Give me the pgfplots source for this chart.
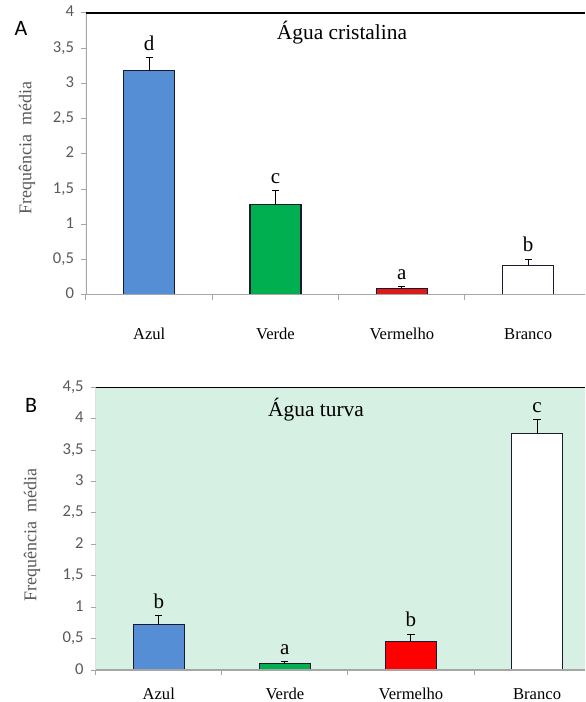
\documentclass[border=0pt]{standalone}
\usepackage{pgfplots}
\pgfplotsset{compat=1.18}
\usepackage{fontspec}
\setmainfont{Liberation Serif}
\newfontfamily\calibri{Carlito}
\definecolor{cblue}{HTML}{558ED5}
\definecolor{cgreen}{HTML}{00B050}
\definecolor{credA}{HTML}{DB1A1A}
\definecolor{credB}{HTML}{FF0000}
\definecolor{bggreen}{HTML}{D6F0E3}
\definecolor{axgray}{HTML}{A6A6A6}
\definecolor{lblgray}{HTML}{595959}
\definecolor{edge}{HTML}{1A1A2E}
\pgfplotsset{
  panel/.style={
    scale only axis, anchor=south west,
    ymin=0, xmin=-0.5,
    axis line style={draw=none},
    tick align=outside,
    xtick={-0.5,0.5,1.5,2.5}, xticklabels={},
    extra x ticks={0,1,2,3},
    extra x tick labels={Azul,Verde,Vermelho,Branco},
    extra x tick style={tick style={draw=none}},
    xtick pos=left, ytick pos=left,
    major tick length=2.5pt,
    tick style={color=axgray, line width=0.5pt},
    ytick distance=0.5,
    scaled y ticks=false,
    typeset ticklabels with strut,
    yticklabel style={font=\calibri\fontsize{8.3}{10}\selectfont, text=lblgray},
    xticklabel style={font=\fontsize{8.3}{10}\selectfont, text=black},
    /pgf/number format/use comma,
    /pgf/number format/assume math mode=true,
  },
  mybar/.style={ybar, bar width=25.5pt, bar shift=0pt, draw=edge, line width=0.6pt, fill=#1,
    error bars/.cd, y dir=plus, y explicit,
    error bar style={black, line width=0.5pt},
    error mark options={rotate=90, mark size=1.8pt, black, line width=0.5pt}},
  letters/.style={draw=none, mark=none, nodes near coords, point meta=explicit symbolic,
    nodes near coords style={font=\fontsize{10.5}{12}\selectfont, text=black}},
}
\begin{document}
\begin{tikzpicture}
\useasboundingbox (0,0) rectangle (292.5pt,351pt);
% Panel A
\begin{axis}[panel, at={(43pt,203.5pt)}, width=249.5pt, height=141pt,
  xmax=3.45, ymax=4, xticklabel style={yshift=-9pt}]
\addplot[mybar=cblue] coordinates {(0,3.18) +- (0,0.19)};
\addplot[mybar=cgreen] coordinates {(1,1.28) +- (0,0.20)};
\addplot[mybar=credA] coordinates {(2,0.09) +- (0,0.03)};
\addplot[mybar=white] coordinates {(3,0.42) +- (0,0.09)};
\addplot[letters] coordinates {(0,3.37)[d] (1,1.48)[c] (2,0.12)[a] (3,0.51)[b]};
\draw[axgray, line width=0.6pt] (rel axis cs:0,0) -- (rel axis cs:0,1);
\draw[axgray, line width=0.6pt] (rel axis cs:0,0) -- (rel axis cs:1,0);
\draw[black, line width=0.7pt] (rel axis cs:0,1) -- (rel axis cs:1,1);
\end{axis}
% Panel B
\begin{axis}[panel, at={(47.85pt,16pt)}, width=244.65pt, height=141.35pt,
  xmax=3.38, ymax=4.5, axis background/.style={fill=bggreen}, xticklabel style={yshift=-1.5pt}]
\addplot[mybar=cblue] coordinates {(0,0.72) +- (0,0.15)};
\addplot[mybar=cgreen] coordinates {(1,0.10) +- (0,0.03)};
\addplot[mybar=credB] coordinates {(2,0.45) +- (0,0.12)};
\addplot[mybar=white] coordinates {(3,3.77) +- (0,0.21)};
\addplot[letters] coordinates {(0,0.87)[b] (1,0.13)[a] (2,0.57)[b] (3,3.98)[c]};
\draw[axgray, line width=0.6pt] (rel axis cs:0,0) -- (rel axis cs:0,1);
\draw[axgray, line width=0.6pt] (rel axis cs:0,0) -- (rel axis cs:1,0);
\draw[black, line width=0.7pt] (rel axis cs:0,1) -- (rel axis cs:1,1);
\end{axis}
% titles and labels
\node[font=\fontsize{10.7}{12}\selectfont] at (171pt,334.5pt) {Água cristalina};
\node[font=\fontsize{10.7}{12}\selectfont] at (158pt,146pt) {Água turva};
\node[font=\calibri\fontsize{11}{12}\selectfont] at (10.5pt,337pt) {A};
\node[font=\calibri\fontsize{11}{12}\selectfont] at (15.5pt,148.5pt) {B};
\node[rotate=90, font=\fontsize{9}{10}\selectfont, text=lblgray] at (13.5pt,277pt) {Frequência\ \ média};
\node[rotate=90, font=\fontsize{9}{10}\selectfont, text=lblgray] at (16pt,83.5pt) {Frequência\ \ média};
\end{tikzpicture}
\end{document}
